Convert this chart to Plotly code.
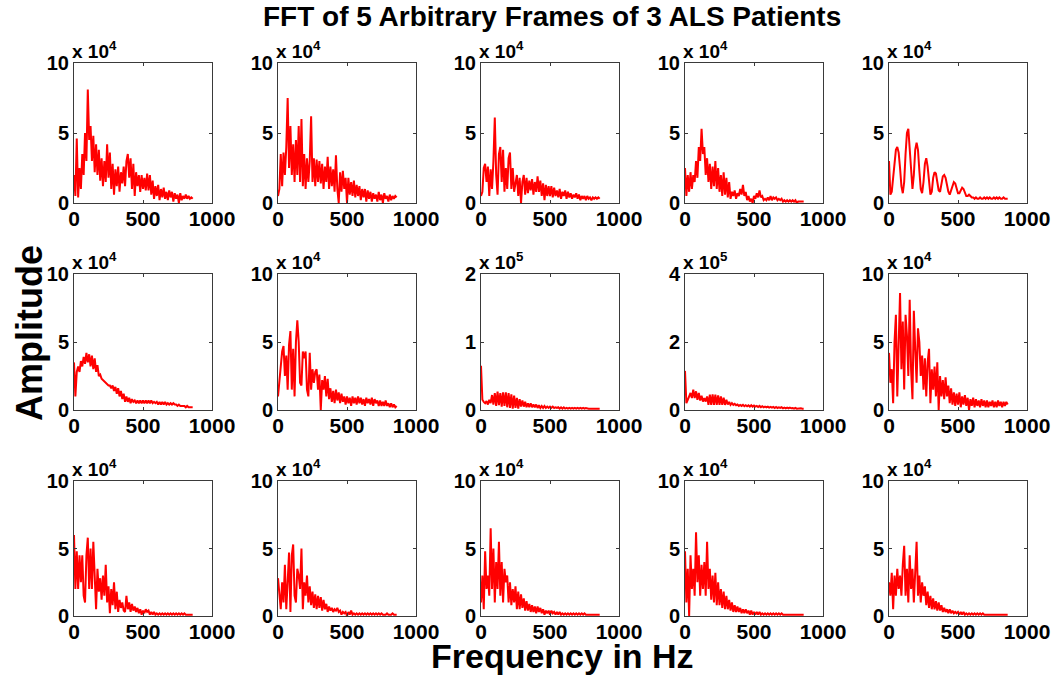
import plotly.graph_objects as go

# Frequency axis (Hz) shared by all panels
FREQ_HZ = [0, 10, 20, 30, 40, 50, 60, 70, 80, 90,
           100, 110, 120, 130, 140, 150, 160, 170, 180, 190,
           200, 210, 220, 230, 240, 250, 260, 270, 280, 290,
           300, 310, 320, 330, 340, 350, 360, 370, 380, 390,
           400, 410, 420, 430, 440, 450, 460, 470, 480, 490,
           500, 510, 520, 530, 540, 550, 560, 570, 580, 590,
           600, 610, 620, 630, 640, 650, 660, 670, 680, 690,
           700, 710, 720, 730, 740, 750, 760, 770, 780, 790,
           800, 810, 820, 830, 840, 850, 860]

# Amplitudes in units of 1e4 (row by row, left to right)
P1 = [2.0, 0.5, 4.6, 0.4, 2.5, 1.0, 3.5, 2.0, 5.0, 3.0,
      8.1, 4.5, 5.5, 3.0, 4.8, 2.2, 4.2, 2.0, 3.8, 1.6,
      3.2, 1.2, 3.0, 1.5, 4.2, 1.8, 3.6, 1.0, 2.8, 0.6,
      2.4, 1.2, 2.6, 0.8, 2.2, 1.4, 2.6, 1.2, 3.0, 3.5,
      1.8, 3.2, 1.0, 2.8, 0.5, 2.2, 1.2, 2.0, 0.8, 2.0,
      1.0, 1.8, 0.9, 2.1, 0.9, 2.0, 0.6, 1.6, 0.3, 1.2,
      0.5, 1.3, 0.2, 1.0, 0.4, 1.1, 0.3, 0.8, 0.2, 0.9,
      0.4, 0.8, 0.1, 0.7, 0.3, 0.6, 0.0, 0.7, 0.2, 0.5,
      0.3, 0.6, 0.3, 0.5, 0.3, 0.4, 0.3]
P2 = [0.5, 1.0, 3.5, 1.2, 3.6, 2.0, 4.0, 7.5, 2.5, 5.5,
      2.0, 4.2, 1.5, 4.5, 2.0, 5.5, 1.5, 6.0, 1.2, 3.5,
      1.0, 3.2, 1.5, 3.0, 6.2, 1.5, 3.2, 1.2, 3.1, 1.5,
      3.0, 1.4, 2.8, 1.0, 2.6, 1.5, 3.3, 1.0, 2.6, 1.2,
      2.4, 0.8, 3.4, 1.0, 0.0, 2.2, 0.8, 2.3, 1.0, 1.8,
      0.0, 1.8, 0.6, 1.5, 0.5, 1.6, 0.4, 1.3, 0.5, 1.2,
      0.2, 1.0, 0.4, 1.0, 0.1, 0.9, 0.3, 0.8, 0.1, 0.7,
      0.3, 0.6, 0.1, 0.8, 0.2, 0.6, 0.0, 0.7, 0.3, 0.5,
      0.1, 0.6, 0.2, 0.5, 0.3, 0.5, 0.4]
P3 = [0.5, 0.8, 2.5, 2.8, 1.5, 2.6, 0.5, 2.4, 1.0, 3.0,
      6.1, 2.0, 0.6, 3.5, 4.0, 1.5, 3.8, 0.8, 2.5, 1.0,
      3.2, 3.6, 1.0, 2.5, 0.8, 1.5, 2.0, 0.5, 1.8, 0.0,
      1.5, 2.0, 0.6, 1.8, 0.7, 1.6, 0.9, 1.7, 0.6, 1.5,
      0.8, 1.9, 0.8, 1.6, 0.5, 1.4, 0.2, 1.3, 0.5, 1.2,
      0.5, 1.2, 0.4, 1.1, 0.5, 0.9, 0.4, 1.0, 0.3, 0.8,
      0.5, 0.9, 0.3, 0.8, 0.4, 0.7, 0.3, 0.6, 0.4, 0.7,
      0.3, 0.6, 0.2, 0.5, 0.3, 0.5, 0.2, 0.5, 0.3, 0.4,
      0.2, 0.4, 0.3, 0.4, 0.3, 0.4, 0.3]
P4 = [2.5, 0.5, 2.0, 0.8, 2.2, 1.0, 2.0, 1.5, 3.0, 1.8,
      4.0, 3.0, 5.3, 3.5, 4.0, 2.0, 3.2, 1.5, 2.8, 1.0,
      2.6, 1.2, 3.0, 1.0, 2.5, 0.8, 2.0, 0.5, 2.2, 0.6,
      1.8, 0.4, 1.5, 0.3, 0.8, 0.5, 0.9, 0.3, 0.7, 0.5,
      1.0, 0.6, 1.3, 0.5, 0.8, 0.2, 0.5, 0.1, 0.3, 0.0,
      0.5, 0.3, 0.7, 0.4, 0.9, 0.4, 0.5, 0.2, 0.3, 0.2,
      0.4, 0.2, 0.5, 0.2, 0.4, 0.3, 0.4, 0.2, 0.3, 0.2,
      0.3, 0.1, 0.2, 0.1, 0.2, 0.1, 0.2, 0.1, 0.2, 0.1,
      0.2, 0.0, 0.1, 0.1, 0.1, 0.1, 0.1]
P5 = [3.0, 0.6, 0.8, 1.8, 3.0, 3.8, 4.0, 3.6, 2.5, 1.2,
      0.7, 1.5, 3.5, 5.0, 5.3, 4.0, 2.0, 1.0, 2.0, 3.8,
      4.3, 3.8, 2.3, 1.0, 0.7, 1.5, 2.8, 3.2, 2.6, 1.4,
      0.6, 0.8, 1.8, 2.2, 2.1, 1.5, 0.9, 0.8, 1.3, 1.9,
      2.0, 1.8, 1.3, 0.8, 0.6, 0.9, 1.3, 1.5, 1.4, 1.0,
      0.7, 0.7, 0.9, 1.1, 1.0, 0.8, 0.5, 0.5, 0.6, 0.5,
      0.4, 0.4, 0.3, 0.4, 0.3, 0.3, 0.4, 0.3, 0.3, 0.4,
      0.3, 0.4, 0.3, 0.4, 0.3, 0.3, 0.4, 0.3, 0.4, 0.3,
      0.4, 0.3, 0.3, 0.4, 0.3, 0.3, 0.3]
P6 = [3.5, 1.0, 2.8, 3.2, 2.8, 3.6, 3.2, 3.9, 3.4, 4.2,
      3.5, 4.1, 3.2, 4.0, 3.0, 3.8, 2.8, 3.3, 2.5, 2.6,
      2.3, 2.2, 2.1, 2.0, 1.9, 1.8, 1.8, 1.6, 1.8, 1.4,
      1.7, 1.2, 1.6, 1.0, 1.4, 0.8, 1.2, 0.6, 1.0, 0.6,
      0.9, 0.5, 0.8, 0.6, 0.7, 0.5, 0.7, 0.5, 0.7, 0.5,
      0.7, 0.5, 0.7, 0.5, 0.7, 0.5, 0.7, 0.5, 0.6, 0.5,
      0.6, 0.4, 0.6, 0.4, 0.6, 0.4, 0.6, 0.4, 0.5, 0.4,
      0.5, 0.4, 0.5, 0.4, 0.4, 0.3, 0.4, 0.3, 0.3, 0.3,
      0.3, 0.2, 0.3, 0.2, 0.2, 0.2, 0.2]
P7 = [1.0, 2.0, 3.0, 4.3, 4.7, 2.5, 4.0, 1.5, 4.8, 5.8,
      1.5, 4.5, 1.0, 5.0, 6.6, 5.0, 2.0, 1.8, 4.3, 3.8,
      4.3, 1.5, 1.0, 4.2, 1.5, 3.0, 2.0, 2.8, 3.0, 1.5,
      2.6, 0.0, 2.2, 1.5, 2.5, 1.0, 2.3, 0.8, 1.6, 0.6,
      1.4, 0.5, 1.5, 0.7, 1.3, 0.5, 1.2, 0.6, 1.0, 0.4,
      1.0, 0.5, 0.9, 0.3, 1.0, 0.5, 0.9, 0.4, 1.0, 0.5,
      0.9, 0.4, 0.8, 0.3, 0.9, 0.5, 0.8, 0.4, 0.9, 0.3,
      0.8, 0.5, 0.7, 0.3, 0.7, 0.3, 0.6, 0.3, 0.7, 0.3,
      0.5, 0.2, 0.5, 0.2, 0.4, 0.2, 0.3]
P8 = [6.5, 1.5, 1.2, 1.0, 1.3, 0.8, 1.5, 1.0, 2.2, 0.8,
      2.5, 0.6, 2.7, 0.7, 2.5, 0.5, 2.6, 0.6, 2.6, 0.4,
      2.5, 0.3, 2.3, 0.2, 2.1, 0.3, 1.8, 0.2, 1.6, 0.5,
      1.4, 0.5, 1.2, 0.4, 1.0, 0.4, 1.0, 0.4, 0.8, 0.4,
      0.8, 0.3, 0.7, 0.3, 0.6, 0.3, 0.6, 0.3, 0.5, 0.3,
      0.5, 0.3, 0.5, 0.3, 0.4, 0.3, 0.4, 0.2, 0.4, 0.2,
      0.4, 0.2, 0.3, 0.2, 0.3, 0.2, 0.3, 0.2, 0.3, 0.2,
      0.3, 0.2, 0.3, 0.2, 0.3, 0.2, 0.3, 0.2, 0.2, 0.2,
      0.2, 0.2, 0.2, 0.2, 0.2, 0.2, 0.2]
P9 = [11.5, 2.0, 3.0, 4.0, 5.0, 3.5, 6.0, 3.5, 5.5, 3.0,
      5.0, 2.8, 4.2, 2.5, 3.5, 2.5, 4.0, 1.5, 4.5, 1.5,
      4.6, 1.5, 4.5, 1.5, 4.3, 1.5, 4.0, 1.5, 3.6, 1.5,
      3.0, 1.6, 2.4, 1.5, 2.0, 1.5, 1.8, 1.4, 1.6, 1.2,
      1.5, 1.2, 1.5, 1.1, 1.4, 1.1, 1.4, 1.0, 1.4, 1.0,
      1.3, 1.0, 1.2, 0.9, 1.2, 0.8, 1.1, 0.8, 1.0, 0.8,
      1.0, 0.7, 0.9, 0.7, 0.9, 0.6, 0.9, 0.6, 0.8, 0.6,
      0.8, 0.5, 0.7, 0.5, 0.7, 0.5, 0.7, 0.5, 0.6, 0.4,
      0.6, 0.4, 0.5, 0.4, 0.5, 0.4, 0.4]
P10 = [4.2, 2.0, 3.0, 0.5, 5.0, 7.0, 1.0, 6.0, 8.6, 3.0,
       6.5, 1.5, 7.0, 5.5, 2.5, 8.1, 3.0, 0.8, 7.3, 4.5,
       2.0, 6.0, 5.0, 2.5, 4.0, 1.5, 3.8, 1.0, 3.5, 4.5,
       0.5, 3.0, 1.5, 3.2, 1.0, 3.5, 0.0, 2.5, 1.0, 2.2,
       0.8, 2.4, 1.0, 1.8, 0.5, 1.6, 0.4, 1.3, 0.3, 1.2,
       0.4, 1.3, 0.2, 1.0, 0.4, 1.1, 0.3, 0.9, 0.0, 0.8,
       0.3, 0.9, 0.2, 0.8, 0.3, 0.7, 0.2, 0.8, 0.3, 0.7,
       0.2, 0.7, 0.2, 0.6, 0.3, 0.7, 0.2, 0.6, 0.2, 0.7,
       0.3, 0.6, 0.2, 0.6, 0.3, 0.6, 0.4]
P11 = [6.0, 2.0, 4.8, 2.0, 4.5, 2.5, 4.5, 1.5, 1.0, 4.5,
       5.8, 2.0, 5.0, 2.0, 5.5, 3.0, 0.5, 3.5, 1.8, 2.8,
       1.2, 3.0, 1.5, 3.8, 1.0, 2.2, 0.2, 2.0, 0.8, 2.5,
       0.5, 1.8, 0.3, 1.2, 0.6, 1.0, 0.4, 0.3, 1.5, 0.5,
       1.0, 0.3, 0.9, 0.4, 0.7, 0.3, 0.6, 0.2, 0.5, 0.1,
       0.4, 0.2, 0.5, 0.3, 0.4, 0.1, 0.3, 0.1, 0.3, 0.1,
       0.2, 0.1, 0.2, 0.1, 0.2, 0.1, 0.2, 0.1, 0.2, 0.1,
       0.2, 0.1, 0.2, 0.1, 0.2, 0.1, 0.2, 0.1, 0.2, 0.1,
       0.2, 0.1, 0.1, 0.1, 0.1, 0.1, 0.1]
P12 = [2.8, 1.5, 0.5, 2.5, 1.0, 3.8, 0.5, 2.5, 4.7, 0.3,
       4.5, 5.3, 1.5, 1.0, 3.5, 3.0, 2.0, 5.0, 0.5, 2.5,
       1.5, 3.0, 1.0, 2.2, 0.8, 1.8, 0.6, 1.6, 0.5, 1.5,
       0.6, 1.4, 0.4, 1.2, 0.5, 0.9, 0.3, 0.7, 0.4, 0.6,
       0.3, 0.5, 0.4, 0.6, 0.3, 0.4, 0.1, 0.3, 0.2, 0.3,
       0.0, 0.3, 0.1, 0.4, 0.1, 0.2, 0.1, 0.2, 0.1, 0.2,
       0.1, 0.2, 0.1, 0.2, 0.1, 0.2, 0.1, 0.2, 0.1, 0.2,
       0.1, 0.2, 0.1, 0.2, 0.1, 0.2, 0.1, 0.1, 0.1, 0.2,
       0.1, 0.1, 0.1, 0.2, 0.1, 0.1, 0.1]
P13 = [1.0, 3.0, 0.5, 4.8, 2.0, 3.0, 1.5, 6.5, 2.0, 5.0,
       1.0, 4.0, 2.0, 5.5, 1.5, 4.0, 1.0, 3.5, 2.5, 3.0,
       1.0, 2.5, 0.8, 2.0, 1.0, 2.2, 0.5, 1.8, 0.5, 1.6,
       0.6, 1.3, 0.4, 1.1, 0.4, 0.9, 0.3, 0.8, 0.3, 0.7,
       0.2, 0.7, 0.3, 0.6, 0.2, 0.5, 0.1, 0.4, 0.2, 0.4,
       0.1, 0.4, 0.2, 0.3, 0.1, 0.3, 0.1, 0.3, 0.1, 0.2,
       0.1, 0.2, 0.1, 0.2, 0.1, 0.2, 0.1, 0.2, 0.1, 0.2,
       0.1, 0.2, 0.1, 0.2, 0.1, 0.2, 0.1, 0.1, 0.1, 0.1,
       0.1, 0.1, 0.1, 0.1, 0.1, 0.1, 0.1]
P14 = [4.8, 1.0, 3.5, 0.0, 4.5, 2.0, 3.5, 1.5, 6.2, 2.5,
       4.5, 1.5, 3.8, 2.0, 4.0, 1.5, 5.5, 2.0, 3.5, 1.2,
       3.0, 1.0, 3.2, 0.8, 2.5, 0.8, 2.0, 0.6, 1.8, 0.5,
       1.5, 0.5, 1.2, 0.4, 1.0, 0.3, 0.8, 0.3, 0.7, 0.3,
       0.6, 0.2, 0.5, 0.2, 0.5, 0.2, 0.4, 0.1, 0.4, 0.1,
       0.3, 0.1, 0.3, 0.1, 0.3, 0.1, 0.2, 0.1, 0.2, 0.1,
       0.2, 0.1, 0.2, 0.1, 0.2, 0.1, 0.2, 0.1, 0.2, 0.1,
       0.2, 0.1, 0.1, 0.1, 0.1, 0.1, 0.1, 0.1, 0.1, 0.1,
       0.1, 0.1, 0.1, 0.1, 0.1, 0.1, 0.1]
P15 = [2.5, 1.5, 3.2, 0.5, 3.0, 1.5, 3.5, 2.0, 3.0, 1.5,
       3.8, 5.2, 1.5, 3.5, 1.0, 4.5, 2.0, 3.5, 1.0, 3.0,
       5.5, 1.5, 3.0, 1.0, 2.5, 1.5, 2.2, 0.8, 1.8, 0.6,
       1.5, 0.5, 1.3, 0.5, 1.1, 0.4, 1.0, 0.4, 0.8, 0.3,
       0.6, 0.3, 0.5, 0.2, 0.5, 0.2, 0.4, 0.2, 0.3, 0.2,
       0.3, 0.1, 0.3, 0.1, 0.3, 0.1, 0.2, 0.1, 0.2, 0.1,
       0.2, 0.1, 0.2, 0.1, 0.2, 0.1, 0.2, 0.1, 0.2, 0.1,
       0.1, 0.1, 0.1, 0.1, 0.1, 0.1, 0.1, 0.1, 0.1, 0.1,
       0.1, 0.1, 0.1, 0.1, 0.1, 0.1, 0.1]

PANELS = [P1, P2, P3, P4, P5, P6, P7, P8, P9, P10, P11, P12, P13, P14, P15]
EXPONENTS = [4, 4, 4, 4, 4, 4, 4, 5, 5, 4, 4, 4, 4, 4, 4]
Y_TOP = [10, 10, 10, 10, 10, 10, 10, 2, 4, 10, 10, 10, 10, 10, 10]
Y_TICK_TEXT = {10: ["0", "5", "10"], 2: ["0", "1", "2"], 4: ["0", "2", "4"]}
X_TICKS = [0, 500, 1000]
X_TICK_TEXT = ["0", "500", "1000"]

for p in PANELS:
    assert len(p) == len(FREQ_HZ), len(p)

W, H = 1054, 678
COL_LEFT = [74, 278, 481, 685, 889]
COL_W = 138
ROWS = [(63, 203), (274, 410), (481, 616)]
FONT = "Liberation Sans, Arial, sans-serif"

fig = go.Figure()
layout = {}
annotations = []
for i, vals in enumerate(PANELS):
    r, c = divmod(i, 5)
    n = "" if i == 0 else str(i + 1)
    xa, ya = "x" + n, "y" + n
    scale = 10 ** EXPONENTS[i]
    ytop = Y_TOP[i] * scale
    fig.add_trace(go.Scatter(
        x=FREQ_HZ, y=[v * 1e4 for v in vals], xaxis=xa, yaxis=ya,
        mode="lines", line=dict(color="#ff0000", width=2),
        showlegend=False, hoverinfo="skip"))
    left = COL_LEFT[c]
    top, bot = ROWS[r]
    axis_common = dict(showline=True, mirror="ticks", linecolor="#3a3a3a",
                       linewidth=1, ticks="inside", ticklen=3,
                       tickcolor="#3a3a3a", showgrid=False, zeroline=False,
                       automargin=False)
    layout["xaxis" + n] = dict(domain=[left / W, (left + COL_W) / W],
                               range=[0, 1000], anchor=ya,
                               tickvals=X_TICKS, ticktext=X_TICK_TEXT,
                               ticklabelstandoff=-3,
                               tickfont=dict(family=FONT, size=21,
                                             color="black", weight="bold"),
                               **axis_common)
    layout["yaxis" + n] = dict(domain=[1 - bot / H, 1 - top / H],
                               range=[0, ytop], anchor=xa,
                               tickvals=[0, ytop / 2, ytop],
                               ticktext=Y_TICK_TEXT[Y_TOP[i]],
                               tickfont=dict(family=FONT, size=20,
                                             color="black", weight="bold"),
                               **axis_common)
    annotations.append(dict(
        xref="paper", yref="paper", x=(left - 4) / W, y=1 - (top + 1) / H,
        xanchor="left", yanchor="bottom", showarrow=False,
        text="x 10<sup>%d</sup>" % EXPONENTS[i],
        font=dict(family=FONT, size=19, color="black", weight="bold")))

annotations.append(dict(
    xref="paper", yref="paper", x=552 / W, y=1 - 17 / H,
    xanchor="center", yanchor="middle", showarrow=False,
    text="FFT of 5 Arbitrary Frames of 3 ALS Patients",
    font=dict(family=FONT, size=28, color="black", weight="bold")))
annotations.append(dict(
    xref="paper", yref="paper", x=29 / W, y=1 - 333 / H,
    xanchor="center", yanchor="middle", showarrow=False, textangle=-90,
    text="Amplitude",
    font=dict(family=FONT, size=36, color="black", weight="bold")))
annotations.append(dict(
    xref="paper", yref="paper", x=562 / W, y=1 - 656 / H,
    xanchor="center", yanchor="middle", showarrow=False,
    text="Frequency in Hz",
    font=dict(family=FONT, size=34, color="black", weight="bold")))

fig.update_layout(width=W, height=H, margin=dict(l=0, r=0, t=0, b=0),
                  paper_bgcolor="white", plot_bgcolor="white",
                  annotations=annotations, **layout)
fig.write_html("out.html", config={"displayModeBar": False})
